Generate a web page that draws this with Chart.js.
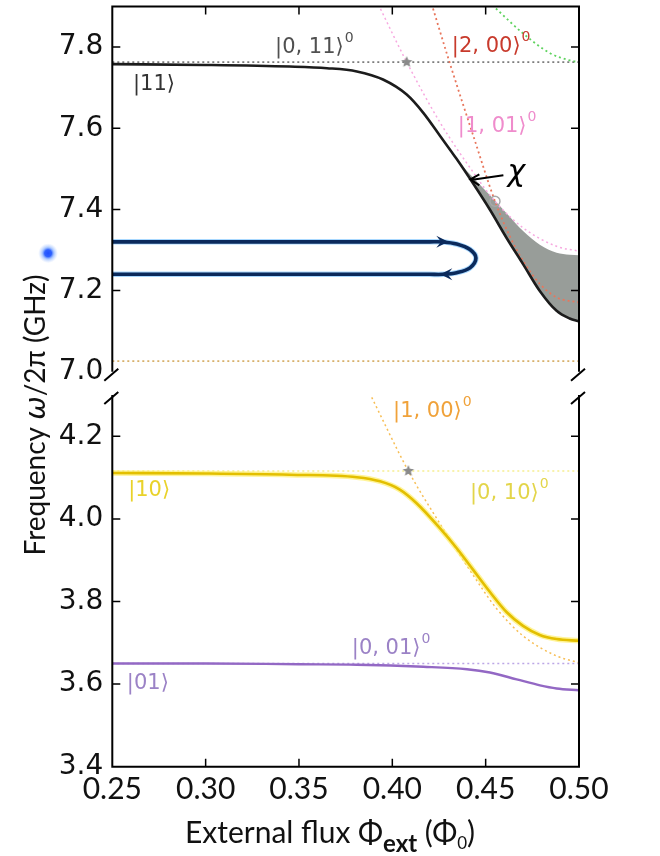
<!DOCTYPE html>
<html>
<head>
<meta charset="utf-8">
<script src="https://cdn.jsdelivr.net/npm/chart.js@4.4.1/dist/chart.umd.min.js"></script>
<style>
  html, body { margin: 0; padding: 0; background: #fff; }
  #wrap { position: relative; width: 660px; height: 856px; }
  #wrap canvas { position: absolute; left: 0; top: 0; }
</style>
</head>
<body>
<div id="wrap">
  <canvas id="topPanel" width="660" height="856"></canvas>
  <canvas id="bottomPanel" width="660" height="856"></canvas>
</div>
<script>
// ---- axes ----
const xTicks = [0.25, 0.30, 0.35, 0.40, 0.45, 0.50];
const yTopTicks = [7.0, 7.2, 7.4, 7.6, 7.8];
const yBottomTicks = [3.4, 3.6, 3.8, 4.0, 4.2];

// ---- upper panel (GHz) ----
const state11Flux = [0.25, 0.30, 0.345, 0.365, 0.381, 0.395, 0.4077, 0.4166, 0.4256, 0.4345, 0.4434, 0.4523, 0.4613, 0.4702, 0.479, 0.488, 0.495, 0.50];
const state11Freq = [7.758, 7.756, 7.752, 7.748, 7.740, 7.720, 7.683, 7.638, 7.581, 7.524, 7.463, 7.399, 7.329, 7.264, 7.199, 7.150, 7.131, 7.124];
const chiEdgeFlux = [0.4365, 0.4434, 0.4523, 0.4613, 0.4702, 0.479, 0.488, 0.495, 0.50];
const chiEdgeFreq = [7.512, 7.478, 7.435, 7.390, 7.346, 7.313, 7.293, 7.288, 7.287];
const bare011Flux = [0.25, 0.50];
const bare011Freq = [7.763, 7.763];
const bare101Flux = [0.3925, 0.4077, 0.4256, 0.4434, 0.455, 0.4702, 0.488, 0.50];
const bare101Freq = [7.905, 7.763, 7.614, 7.491, 7.420, 7.354, 7.309, 7.297];
const bare200Flux = [0.4218, 0.430, 0.4434, 0.455, 0.463, 0.4702, 0.4791, 0.4881, 0.50];
const bare200Freq = [7.895, 7.772, 7.581, 7.420, 7.333, 7.272, 7.216, 7.183, 7.171];
const bareHighFlux = [0.4555, 0.4702, 0.4845, 0.4952, 0.50];
const bareHighFreq = [7.895, 7.833, 7.785, 7.767, 7.763];
const bareLowFlux = [0.25, 0.50];
const bareLowFreq = [7.026, 7.026];
const loopFlux = [0.25, 0.42, 0.4273, 0.4345, 0.4416, 0.4448, 0.4416, 0.4345, 0.4273, 0.42, 0.25];
const loopFreq = [7.320, 7.320, 7.3198, 7.3146, 7.301, 7.280, 7.256, 7.244, 7.240, 7.240, 7.240];
const starTopFlux = [0.4077], starTopFreq = [7.763];
const circleFlux = [0.455], circleFreq = [7.420];
const pulseFlux = [0.2156], pulseFreq = [7.292];

// ---- lower panel (GHz) ----
const state10Flux = [0.25, 0.30, 0.345, 0.381, 0.3934, 0.404, 0.413, 0.4256, 0.4345, 0.4434, 0.4523, 0.4613, 0.470, 0.479, 0.488, 0.50];
const state10Freq = [4.111, 4.110, 4.107, 4.101, 4.091, 4.071, 4.038, 3.977, 3.929, 3.876, 3.823, 3.774, 3.741, 3.719, 3.709, 3.705];
const state01Flux = [0.25, 0.30, 0.35, 0.381, 0.4166, 0.44, 0.4523, 0.4666, 0.4791, 0.488, 0.50];
const state01Freq = [3.650, 3.650, 3.648, 3.647, 3.642, 3.636, 3.628, 3.6115, 3.597, 3.5895, 3.585];
const bare010Flux = [0.25, 0.50], bare010Freq = [4.116, 4.116];
const bare001Flux = [0.25, 0.50], bare001Freq = [3.650, 3.650];
const bare100Flux = [0.3878, 0.4086, 0.4256, 0.4434, 0.456, 0.470, 0.488, 0.50];
const bare100Freq = [4.305, 4.116, 3.988, 3.863, 3.782, 3.717, 3.668, 3.652];
const starBottomFlux = [0.4086], starBottomFreq = [4.116];

// state labels, anchored in data coordinates
const topKets = [
  { text: '|0, 11⟩', sup: '0', x: 0.3372, y: 7.785, color: '#505050' },
  { text: '|11⟩', x: 0.2611, y: 7.694, color: '#333333' },
  { text: '|2, 00⟩', sup: '0', x: 0.4319, y: 7.789, color: '#c83a2c' },
  { text: '|1, 01⟩', sup: '0', x: 0.4351, y: 7.590, color: '#ef8ccc' }
];
const bottomKets = [
  { text: '|1, 00⟩', sup: '0', x: 0.4004, y: 4.2456, color: '#f0a23a' },
  { text: '|10⟩', x: 0.2585, y: 4.0554, color: '#e9d22a' },
  { text: '|0, 10⟩', sup: '0', x: 0.4416, y: 4.048, color: '#e3d54a' },
  { text: '|0, 01⟩', sup: '0', x: 0.3783, y: 3.6724, color: '#9b82c6' },
  { text: '|01⟩', x: 0.2578, y: 3.587, color: '#9b82c6' }
];

const pts = (xs, ys) => xs.map((x, i) => ({ x, y: ys[i] }));
const DOTS = [2, 3];

function curve(xs, ys, color, width, extra) {
  return Object.assign({
    data: pts(xs, ys), borderColor: color, borderWidth: width,
    pointRadius: 0, tension: 0.4, cubicInterpolationMode: 'monotone', fill: false
  }, extra || {});
}

function makeStar(r, color) {
  const c = document.createElement('canvas');
  c.width = c.height = 2 * r + 2;
  const g = c.getContext('2d');
  g.fillStyle = color;
  g.beginPath();
  for (let i = 0; i < 10; i++) {
    const a = -Math.PI / 2 + i * Math.PI / 5;
    const rr = i % 2 ? r * 0.45 : r;
    g.lineTo(r + 1 + rr * Math.cos(a), r + 1 + rr * Math.sin(a));
  }
  g.closePath();
  g.fill();
  return c;
}
const starImg = makeStar(6, '#8a8a8a');

// spines, inward ticks and break marks
const framePlugin = {
  id: 'frame',
  afterDatasetsDraw(chart, args, opts) {
    const { ctx, chartArea: a, scales: { x, y } } = chart;
    const edgeY = opts.edge === 'top' ? a.top : a.bottom;
    const breakY = opts.edge === 'top' ? a.bottom : a.top;
    const dir = opts.edge === 'top' ? 1 : -1;
    ctx.save();
    ctx.strokeStyle = '#000';
    ctx.lineWidth = 2;
    ctx.beginPath();
    ctx.moveTo(a.left, breakY); ctx.lineTo(a.left, edgeY); ctx.lineTo(a.right, edgeY); ctx.lineTo(a.right, breakY);
    ctx.stroke();
    ctx.lineWidth = 1.5;
    ctx.beginPath();
    xTicks.forEach(v => {
      const px = x.getPixelForValue(v);
      if (px > a.left + 1 && px < a.right - 1) { ctx.moveTo(px, edgeY); ctx.lineTo(px, edgeY + dir * 8); }
    });
    opts.yTicks.forEach(v => {
      const py = y.getPixelForValue(v);
      if (py > a.top + 1 && py < a.bottom - 1) {
        ctx.moveTo(a.left, py); ctx.lineTo(a.left + 8, py);
        ctx.moveTo(a.right, py); ctx.lineTo(a.right - 8, py);
      }
    });
    ctx.stroke();
    ctx.lineWidth = 2;
    ctx.beginPath();
    [a.left, a.right].forEach(px => {
      ctx.moveTo(px - 8, breakY + 9); ctx.lineTo(px + 6, breakY - 3);
    });
    ctx.stroke();
    ctx.restore();
  }
};

const ketPlugin = {
  id: 'kets',
  afterDatasetsDraw(chart, args, opts) {
    const { ctx, scales: { x, y } } = chart;
    ctx.save();
    ctx.textBaseline = 'alphabetic';
    opts.items.forEach(k => {
      const px = x.getPixelForValue(k.x), py = y.getPixelForValue(k.y);
      ctx.fillStyle = k.color;
      ctx.font = '21px "DejaVu Sans"';
      ctx.fillText(k.text, px, py);
      if (k.sup) {
        const w = ctx.measureText(k.text).width;
        ctx.font = '14px "DejaVu Sans"';
        ctx.fillText(k.sup, px + w + 1, py - 11);
      }
    });
    ctx.restore();
  }
};

function arrowHead(ctx, tx, ty, dx, len, half) {
  ctx.beginPath();
  ctx.moveTo(tx, ty);
  ctx.lineTo(tx - dx * len, ty - half);
  ctx.lineTo(tx - dx * len * 0.6, ty);
  ctx.lineTo(tx - dx * len, ty + half);
  ctx.closePath();
  ctx.fill();
}

const markPlugin = {
  id: 'marks',
  afterDatasetsDraw(chart) {
    const { ctx, scales: { x, y } } = chart;
    ctx.save();
    // probe pulse (sits left of the axis, outside the plot area)
    const bx = x.getPixelForValue(pulseFlux[0]), by = y.getPixelForValue(pulseFreq[0]);
    const glow = ctx.createRadialGradient(bx, by, 0, bx, by, 10);
    glow.addColorStop(0, '#1f4fff');
    glow.addColorStop(0.35, '#2f62ff');
    glow.addColorStop(0.6, 'rgba(110,160,255,0.55)');
    glow.addColorStop(1, 'rgba(170,200,255,0)');
    ctx.fillStyle = glow;
    ctx.beginPath(); ctx.arc(bx, by, 10, 0, Math.PI * 2); ctx.fill();
    // loop arrow heads
    ctx.fillStyle = '#0b2a5c';
    arrowHead(ctx, x.getPixelForValue(0.4300), y.getPixelForValue(7.320), 1, 12, 6);
    arrowHead(ctx, x.getPixelForValue(0.4257), y.getPixelForValue(7.240), -1, 12, 6);
    // chi arrow
    const hx = x.getPixelForValue(0.4418), hy = y.getPixelForValue(7.474);
    const tx = x.getPixelForValue(0.4595), ty = y.getPixelForValue(7.484);
    ctx.strokeStyle = '#000';
    ctx.lineWidth = 2;
    ctx.beginPath();
    ctx.moveTo(tx, ty); ctx.lineTo(hx + 2, hy + 0.5);
    ctx.moveTo(hx + 9, hy - 5); ctx.lineTo(hx, hy); ctx.lineTo(hx + 9, hy + 6);
    ctx.stroke();
    ctx.fillStyle = '#000';
    ctx.font = 'italic 30px "DejaVu Sans"';
    ctx.textBaseline = 'alphabetic';
    ctx.fillText('χ', x.getPixelForValue(0.4617), y.getPixelForValue(7.469));
    ctx.restore();
  }
};

function drawRich(ctx, parts, cx, cy) {
  let total = 0;
  parts.forEach(p => { ctx.font = p.font; p.w = ctx.measureText(p.t).width; total += p.w; });
  let px = cx - total / 2;
  parts.forEach(p => { ctx.font = p.font; ctx.fillText(p.t, px, cy + (p.dy || 0)); px += p.w; });
}

const titlePlugin = {
  id: 'titles',
  afterDraw(chart) {
    const { ctx } = chart;
    const fam = 'Lato, "DejaVu Sans", sans-serif';
    ctx.save();
    ctx.fillStyle = '#111';
    ctx.textBaseline = 'alphabetic';
    drawRich(ctx, [
      { t: 'External flux Φ', font: '30px ' + fam },
      { t: 'ext', font: 'bold 24px ' + fam, dy: 9 },
      { t: ' (Φ', font: '30px ' + fam },
      { t: '0', font: '17px ' + fam, dy: 6 },
      { t: ')', font: '30px ' + fam }
    ], 330, 843);
    ctx.translate(45, 415);
    ctx.rotate(-Math.PI / 2);
    drawRich(ctx, [
      { t: 'Frequency ', font: '28px ' + fam },
      { t: 'ω', font: 'italic 28px "DejaVu Sans"' },
      { t: '/2π (GHz)', font: '28px ' + fam }
    ], 0, 0);
    ctx.restore();
  }
};

const xScale = (show) => ({
  type: 'linear', min: 0.25, max: 0.50, display: show,
  grid: { display: false, drawTicks: false }, border: { display: false },
  afterBuildTicks: s => { s.ticks = xTicks.map(v => ({ value: v })); },
  afterFit: s => { s.height = show ? 89.3 : 0; s.paddingLeft = 0; s.paddingRight = 0; },
  ticks: {
    autoSkip: false, maxRotation: 0, padding: 5, color: '#111',
    font: { family: 'Lato', size: 30 },
    callback: v => v.toFixed(2)
  }
});

const yScale = (min, max, ticks) => ({
  type: 'linear', min, max,
  grid: { display: false, drawTicks: false }, border: { display: false },
  afterBuildTicks: s => { s.ticks = ticks.map(v => ({ value: v })); },
  afterFit: s => { s.width = 112.3; s.paddingTop = 0; s.paddingBottom = 0; },
  ticks: { padding: 9, color: '#111', font: { family: 'DejaVu Sans', size: 28 }, callback: v => v.toFixed(1) }
});

const common = {
  responsive: false, animation: false, devicePixelRatio: 1, events: []
};

new Chart(document.getElementById('topPanel'), {
  type: 'line',
  data: {
    datasets: [
      curve(state11Flux, state11Freq, '#1c1c1c', 2.6),
      curve(starTopFlux, starTopFreq, '#888', 0, { showLine: false, pointRadius: 6, pointStyle: starImg }),
      curve(circleFlux, circleFreq, '#aaa', 0, { showLine: false, pointRadius: 5, pointBorderWidth: 1.5, pointBorderColor: '#a8a8a8', pointBackgroundColor: 'rgba(255,255,255,0)' }),
      curve(loopFlux, loopFreq, '#0b2a5c', 3.6, { cubicInterpolationMode: 'default', tension: 0.35 }),
      curve(loopFlux, loopFreq, '#a8d8ff', 5.5, { cubicInterpolationMode: 'default', tension: 0.35 }),
      curve(bare101Flux, bare101Freq, '#f7a9e0', 1.5, { borderDash: DOTS }),
      curve(bare200Flux, bare200Freq, '#e8765c', 1.8, { borderDash: DOTS }),
      curve(bareHighFlux, bareHighFreq, '#5fd35f', 1.8, { borderDash: DOTS }),
      curve(bare011Flux, bare011Freq, '#7c7c7c', 1.6, { borderDash: DOTS }),
      curve(bareLowFlux, bareLowFreq, '#d7b06a', 1.6, { borderDash: DOTS }),
      curve(chiEdgeFlux, chiEdgeFreq, 'rgba(0,0,0,0)', 0, { fill: 0, backgroundColor: '#989d99' })
    ]
  },
  options: Object.assign({}, common, {
    layout: { padding: { left: 0, top: 3.5, right: 81, bottom: 856 - 371.7 } },
    scales: { x: xScale(false), y: yScale(7.0, 7.9, yTopTicks) },
    plugins: {
      legend: { display: false }, tooltip: { enabled: false },
      frame: { edge: 'top', yTicks: yTopTicks },
      kets: { items: topKets }
    }
  }),
  plugins: [framePlugin, ketPlugin, markPlugin]
});

new Chart(document.getElementById('bottomPanel'), {
  type: 'line',
  data: {
    datasets: [
      curve(state10Flux, state10Freq, '#e3bf00', 2.6),
      curve(state01Flux, state01Freq, '#9368c4', 2.4),
      curve(starBottomFlux, starBottomFreq, '#888', 0, { showLine: false, pointRadius: 6, pointStyle: starImg }),
      curve(state10Flux, state10Freq, 'rgba(255,240,110,0.7)', 5.5),
      curve(bare100Flux, bare100Freq, '#f7be55', 1.5, { borderDash: DOTS }),
      curve(bare010Flux, bare010Freq, '#f6ee90', 1.6, { borderDash: DOTS }),
      curve(bare001Flux, bare001Freq, '#bca6e6', 1.6, { borderDash: DOTS })
    ]
  },
  options: Object.assign({}, common, {
    layout: { padding: { left: 0, top: 395, right: 81, bottom: 0 } },
    scales: { x: xScale(true), y: yScale(3.4, 4.3, yBottomTicks) },
    plugins: {
      legend: { display: false }, tooltip: { enabled: false },
      frame: { edge: 'bottom', yTicks: yBottomTicks },
      kets: { items: bottomKets }
    }
  }),
  plugins: [framePlugin, ketPlugin, titlePlugin]
});
</script>
</body>
</html>
